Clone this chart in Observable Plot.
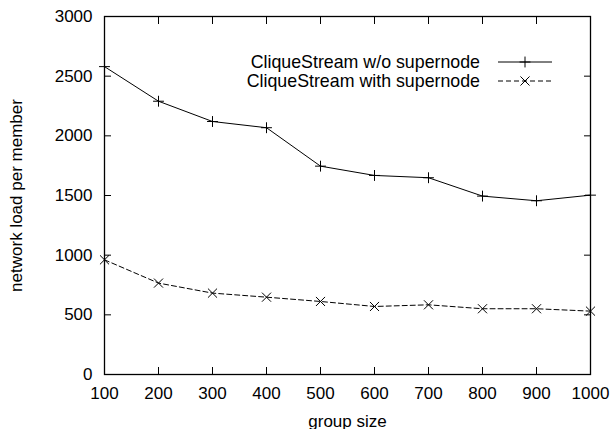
<!DOCTYPE html>
<html>
<head>
<meta charset="utf-8">
<script src="https://cdn.jsdelivr.net/npm/d3@7"></script>
<script src="https://cdn.jsdelivr.net/npm/@observablehq/plot@0.6"></script>
<style>
  html, body { margin: 0; padding: 0; background: #fff; }
  svg { font-family: "Liberation Sans", Arial, Helvetica, sans-serif; }
</style>
</head>
<body>
<div id="chart"></div>
<script>
const groupSizes = [100, 200, 300, 400, 500, 600, 700, 800, 900, 1000];
const withoutSupernode = [2580, 2290, 2120, 2068, 1746, 1668, 1649, 1495, 1456, 1503];
const withSupernode = [961, 766, 682, 648, 612, 570, 584, 551, 551, 531];
const seriesNames = ["CliqueStream w/o supernode", "CliqueStream with supernode"];
const xTicks = [100, 200, 300, 400, 500, 600, 700, 800, 900, 1000];
const yTicks = [0, 500, 1000, 1500, 2000, 2500, 3000];

const s1 = groupSizes.map((g, i) => ({x: g, y: withoutSupernode[i]}));
const s2 = groupSizes.map((g, i) => ({x: g, y: withSupernode[i]}));

const fs = 17;
const chart = Plot.plot({
  width: 616,
  height: 429,
  marginLeft: 104,
  marginRight: 26,
  marginTop: 16,
  marginBottom: 55,
  style: {fontSize: fs + "px", fontFamily: '"Liberation Sans", Arial, sans-serif', color: "#000", background: "#fff"},
  x: {domain: [100, 1000]},
  y: {domain: [0, 3000]},
  marks: [
    Plot.frame({stroke: "#000", strokeWidth: 1.3}),
    // inward ticks on all four sides
    Plot.axisX(xTicks, {anchor: "bottom", tickSize: -7, tickFormat: () => "", label: null, strokeWidth: 1}),
    Plot.axisX(xTicks, {anchor: "top", tickSize: -7, tickFormat: () => "", label: null, strokeWidth: 1}),
    Plot.axisY(yTicks, {anchor: "left", tickSize: -7, tickFormat: () => "", label: null, strokeWidth: 1}),
    Plot.axisY(yTicks, {anchor: "right", tickSize: -7, tickFormat: () => "", label: null, strokeWidth: 1}),
    // tick labels
    Plot.axisX(xTicks, {anchor: "bottom", tickSize: 0, tickPadding: 12, tickFormat: d => String(d), label: "group size", labelAnchor: "center", labelOffset: 52, labelArrow: "none", fontSize: fs}),
    Plot.axisY(yTicks, {anchor: "left", tickSize: 0, tickPadding: 12, tickFormat: d => String(d), label: "network load per member", labelAnchor: "center", labelOffset: 95, labelArrow: "none", fontSize: fs}),
    // series
    Plot.line(s1, {x: "x", y: "y", stroke: "#000", strokeWidth: 1}),
    Plot.dot(s1, {x: "x", y: "y", symbol: "plus", r: 3.6, stroke: "#000", strokeWidth: 1}),
    Plot.line(s2, {x: "x", y: "y", stroke: "#000", strokeWidth: 1, strokeDasharray: "5,3"}),
    Plot.dot(s2, {x: "x", y: "y", symbol: "times", r: 4.2, stroke: "#000", strokeWidth: 1})
  ]
});
document.getElementById("chart").appendChild(chart);

// Legend inside the plot (top right), gnuplot style
const svg = d3.select(chart);
const lg = svg.append("g").attr("font-family", '"Liberation Sans", Arial, sans-serif').attr("font-size", 17.8);
const legendRows = [
  {name: seriesNames[0], dash: null, symbol: d3.symbolPlus, r: 3.6},
  {name: seriesNames[1], dash: "5,3", symbol: d3.symbolTimes, r: 4.2}
];
legendRows.forEach((row, i) => {
  const cy = 62 + i * 19;
  lg.append("text").attr("x", 480).attr("y", cy).attr("dy", "0.35em").attr("text-anchor", "end").attr("fill", "#000").text(row.name);
  lg.append("line").attr("x1", 498).attr("x2", 552).attr("y1", cy).attr("y2", cy)
    .attr("stroke", "#000").attr("stroke-width", 1).attr("stroke-dasharray", row.dash);
  lg.append("path").attr("transform", `translate(525,${cy})`)
    .attr("d", d3.symbol(row.symbol, Math.PI * row.r * row.r)())
    .attr("fill", "none").attr("stroke", "#000").attr("stroke-width", 1);
});
</script>
</body>
</html>
